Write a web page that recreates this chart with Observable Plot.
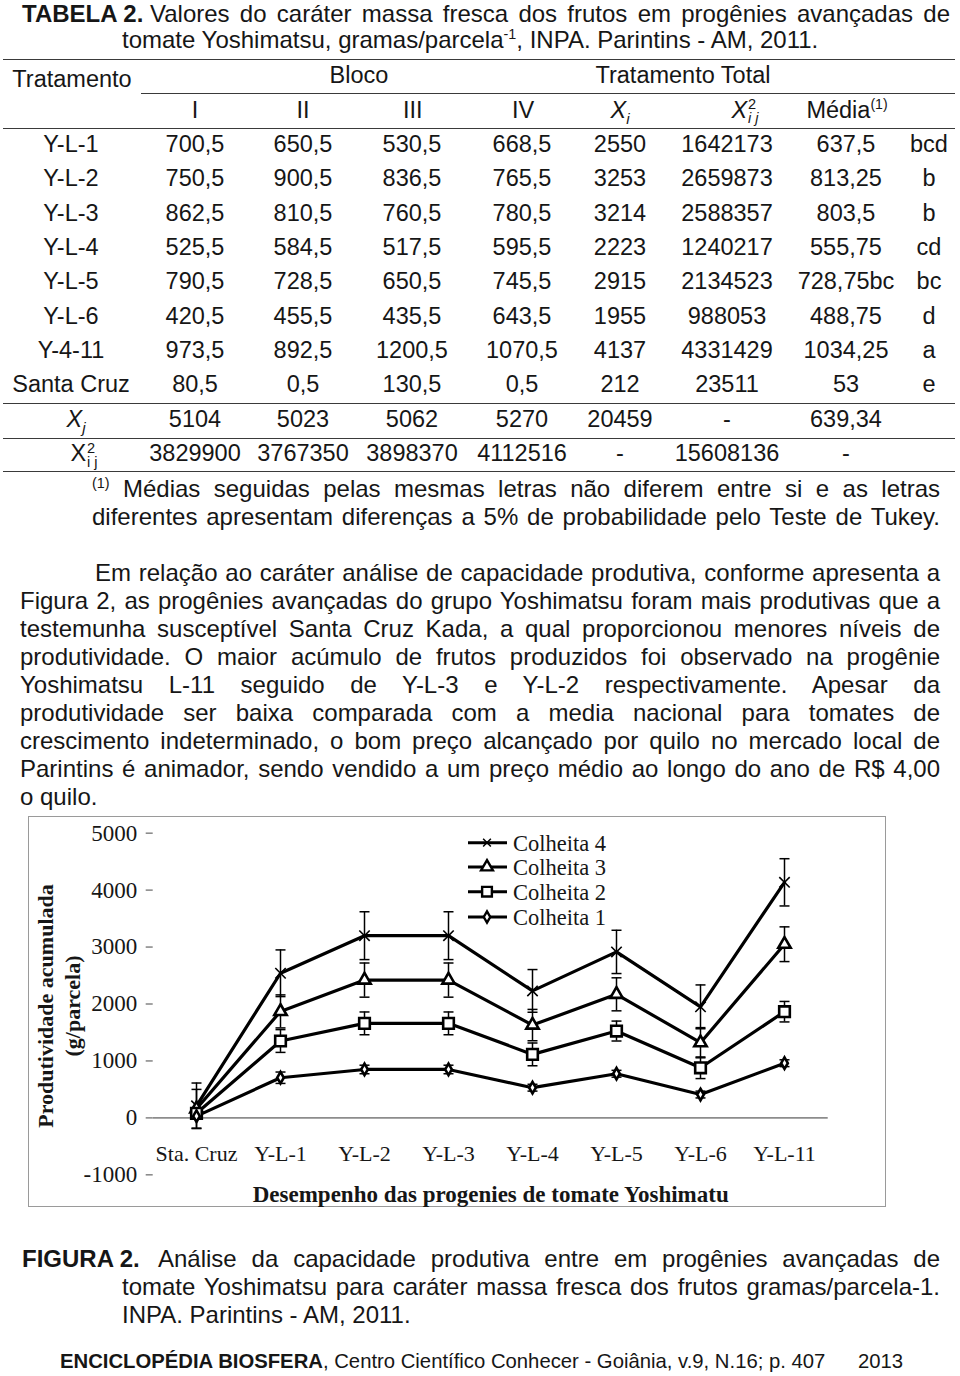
<!DOCTYPE html>
<html><head><meta charset="utf-8">
<script src="https://cdn.jsdelivr.net/npm/d3@7"></script>
<script src="https://cdn.jsdelivr.net/npm/@observablehq/plot@0.6"></script>
<style>
body{margin:0;background:#fff;}
#page{position:relative;width:960px;height:1376px;overflow:hidden;font-family:"Liberation Sans",Arial,sans-serif;color:#161616;}
.t{position:absolute;white-space:nowrap;line-height:28px;font-size:24px;}
.c{transform:translateX(-50%);}
.tb{font-size:23.5px;}
sup.s{font-size:0.6em;vertical-align:super;line-height:0;}
sub.s{font-size:0.65em;vertical-align:sub;line-height:0;}
.stk{display:inline-block;vertical-align:-0.4em;line-height:0.95;font-size:0.62em;text-align:left;margin-left:1px;}
.stk span{display:block;}
.hl{position:absolute;height:0;border-top:1.6px solid #3a3a3a;}
</style></head><body><div id="page"></div>
<script>
// ---------------- Table data ----------------
const tratamentos = ["Y-L-1","Y-L-2","Y-L-3","Y-L-4","Y-L-5","Y-L-6","Y-4-11","Santa Cruz"];
const blocoI   = ["700,5","750,5","862,5","525,5","790,5","420,5","973,5","80,5"];
const blocoII  = ["650,5","900,5","810,5","584,5","728,5","455,5","892,5","0,5"];
const blocoIII = ["530,5","836,5","760,5","517,5","650,5","435,5","1200,5","130,5"];
const blocoIV  = ["668,5","765,5","780,5","595,5","745,5","643,5","1070,5","0,5"];
const totalXi  = ["2550","3253","3214","2223","2915","1955","4137","212"];
const totalX2  = ["1642173","2659873","2588357","1240217","2134523","988053","4331429","23511"];
const medias   = ["637,5","813,25","803,5","555,75","728,75bc","488,75","1034,25","53"];
const letras   = ["bcd","b","b","cd","bc","d","a","e"];
const linhaXj  = ["5104","5023","5062","5270","20459","-","639,34"];
const linhaX2  = ["3829900","3767350","3898370","4112516","-","15608136","-"];

// ---------------- Chart data ----------------
const categorias = ["Sta. Cruz","Y-L-1","Y-L-2","Y-L-3","Y-L-4","Y-L-5","Y-L-6","Y-L-11"];
const colheita4 = [212, 2540, 3200, 3200, 2230, 2915, 1950, 4137];
const erro4     = [400, 410, 420, 420, 375, 380, 385, 415];
const colheita3 = [160, 1870, 2420, 2420, 1630, 2170, 1320, 3050];
const erro3     = [340, 290, 300, 300, 275, 290, 265, 305];
const colheita2 = [80, 1350, 1660, 1660, 1115, 1525, 880, 1865];
const erro2     = [60, 200, 200, 200, 200, 175, 190, 180];
const colheita1 = [30, 705, 850, 850, 530, 775, 410, 960];
const erro1     = [30, 100, 75, 75, 60, 60, 60, 60];
const serieNomes = ["Colheita 4","Colheita 3","Colheita 2","Colheita 1"];
const yTicks = [-1000, 0, 1000, 2000, 3000, 4000, 5000];
const yTitulo = "Produtividade acumulada\n(g/parcela)";
const xTitulo = "Desempenho das progenies de tomate Yoshimatu";

const page = document.getElementById("page");
function put(html, left, cy, cls = "", extra = "") {
  const d = document.createElement("div");
  d.className = "t " + cls;
  d.innerHTML = html;
  d.style.cssText = `left:${left}px;top:${cy - 14}px;${extra}`;
  page.appendChild(d);
  return d;
}
function just(html, left, right, cy, cls = "") {
  const d = put(html, left, cy, cls);
  const w = d.getBoundingClientRect().width;
  const n = (d.textContent.match(/ /g) || []).length;
  if (n) d.style.wordSpacing = ((right - left - w) / n) + "px";
  return d;
}
function hline(y, x1, x2) {
  const d = document.createElement("div");
  d.className = "hl";
  d.style.cssText = `left:${x1}px;top:${y - 0.8}px;width:${x2 - x1}px;`;
  page.appendChild(d);
}

// Title
put("<b>TABELA 2.</b>", 22, 14);
just("Valores do caráter massa fresca dos frutos em progênies avançadas de", 150, 950, 14);
put('tomate Yoshimatsu, gramas/parcela<sup class="s">-1</sup>, INPA. Parintins - AM, 2011.', 122, 40);

// Table lines
hline(60, 3, 955); hline(93.3, 141, 955); hline(129, 3, 955);
hline(403.3, 3, 955); hline(439, 3, 955); hline(472, 3, 955);

// Header
put("Tratamento", 72, 79, "tb c");
put("Bloco", 359, 75, "tb c");
put("Tratamento Total", 683, 75, "tb c");
const hdrX = [195, 303, 412.7, 523, 620, 745, 847];
const hdr = ["I","II","III","IV",'<i>X</i><sub class="s"><i>i</i></sub>',
  '<i>X</i><span class="stk"><span>2</span><span><i>i j</i></span></span>',
  'Média<sup class="s">(1)</sup>'];
hdr.forEach((h, i) => put(h, hdrX[i], 109.5, "tb c"));

// Body
const colX = [71, 195, 303, 412, 522, 620, 727, 846, 929];
tratamentos.forEach((t, i) => {
  const cy = 144 + 34.3 * i;
  const vals = [t, blocoI[i], blocoII[i], blocoIII[i], blocoIV[i], totalXi[i], totalX2[i], medias[i], letras[i]];
  vals.forEach((v, k) => put(v, colX[k], cy, "tb c"));
});
put('<i>X</i><sub class="s"><i>j</i></sub>', 76, 419, "tb c");
linhaXj.forEach((v, k) => put(v, colX[k + 1], 419, "tb c"));
put('X<span class="stk"><span>2</span><span>i j</span></span>', 84, 453.3, "tb c");
linhaX2.forEach((v, k) => put(v, colX[k + 1], 453.3, "tb c"));

// Footnote
just('<sup class="s">(1)</sup> Médias seguidas pelas mesmas letras não diferem entre si e as letras', 92, 940, 489);
just("diferentes apresentam diferenças a 5% de probabilidade pelo Teste de Tukey.", 92, 940, 517);

// Paragraph
const paragrafo = [
  "Em relação ao caráter análise de capacidade produtiva, conforme apresenta a",
  "Figura 2, as progênies avançadas do grupo Yoshimatsu foram mais produtivas que a",
  "testemunha susceptível Santa Cruz Kada, a qual proporcionou menores níveis de",
  "produtividade. O maior acúmulo de frutos produzidos foi observado na progênie",
  "Yoshimatsu L-11 seguido de Y-L-3 e Y-L-2 respectivamente. Apesar da",
  "produtividade ser baixa comparada com a media nacional para tomates de",
  "crescimento indeterminado, o bom preço alcançado por quilo no mercado local de",
  "Parintins é animador, sendo vendido a um preço médio ao longo do ano de R$ 4,00",
  "o quilo."
];
paragrafo.forEach((l, i) => {
  const cy = 573 + 28 * i;
  if (i === 0) just(l, 95, 940, cy);
  else if (i === paragrafo.length - 1) put(l, 20, cy);
  else just(l, 20, 940, cy);
});

// Caption
put("<b>FIGURA 2.</b>", 22, 1259);
just("Análise da capacidade produtiva entre em progênies avançadas de", 158, 940, 1259);
just("tomate Yoshimatsu para caráter massa fresca dos frutos gramas/parcela-1.", 122, 940, 1287);
put("INPA. Parintins - AM, 2011.", 122, 1315);

// Footer
put("<b>ENCICLOPÉDIA BIOSFERA</b>, Centro Científico Conhecer - Goiânia, v.9, N.16; p. 407", 60, 1361, "", "font-size:20.3px;");
put("2013", 858, 1361, "", "font-size:20.3px;");

// ---------------- Chart ----------------
const box = document.createElement("div");
box.style.cssText = "position:absolute;left:28px;top:816px;width:858px;height:391px;box-sizing:border-box;border:1.6px solid #9a9a9a;";
page.appendChild(box);

const series = [
  {name: serieNomes[0], symbol: "times", r: 4.8, values: colheita4, err: erro4},
  {name: serieNomes[1], symbol: "triangle", r: 4.6, values: colheita3, err: erro3},
  {name: serieNomes[2], symbol: "square", r: 6, values: colheita2, err: erro2},
  {name: serieNomes[3], symbol: "diamond", r: 3.5, values: colheita1, err: erro1}
];
const rows = series.flatMap(s => categorias.map((c, i) => ({serie: s.name, cat: c, v: s.values[i], e: s.err[i]})));
const cap = {draw(ctx, size) { const w = Math.sqrt(size / Math.PI); ctx.moveTo(-w, 0); ctx.lineTo(w, 0); }};
const serif = "'Liberation Serif','Times New Roman',serif";

const chart = Plot.plot({
  width: 858, height: 391,
  marginLeft: 124.7, marginRight: 58.3, marginTop: 16.7, marginBottom: 32.7,
  style: {background: "transparent", fontFamily: serif, overflow: "visible"},
  x: {type: "point", domain: categorias, padding: 0.5},
  y: {domain: [-1000, 5000]},
  marks: [
    Plot.ruleY([0], {stroke: "#8c8c8c", strokeWidth: 1.6}),
    Plot.axisY({ticks: yTicks, tickSize: 7, tickPadding: 9, stroke: "#8c8c8c", strokeWidth: 1.6, fill: "#161616",
      fontSize: 23, fontFamily: serif, line: true, label: null, tickFormat: d => String(d)}),
    Plot.axisX({anchor: "bottom", tickSize: 0, tickPadding: 0, lineAnchor: "middle", dy: -21, fontSize: 22,
      fontFamily: serif, fill: "#161616", label: null}),
    Plot.line(rows, {x: "cat", y: "v", z: "serie", stroke: "#000", strokeWidth: 3.2}),
    Plot.ruleX(rows, {x: "cat", y1: d => d.v - d.e, y2: d => d.v + d.e, stroke: "#000", strokeWidth: 1.5}),
    Plot.dot(rows, {x: "cat", y: d => d.v + d.e, symbol: cap, r: 5, stroke: "#000", strokeWidth: 1.5}),
    Plot.dot(rows, {x: "cat", y: d => d.v - d.e, symbol: cap, r: 5, stroke: "#000", strokeWidth: 1.5}),
    ...series.map(s => Plot.dot(rows.filter(d => d.serie === s.name), {x: "cat", y: "v", symbol: s.symbol, r: s.r,
      stroke: "#000", fill: s.symbol === "times" ? "none" : "white", strokeWidth: s.symbol === "times" ? 1.6 : 2.6})),
    Plot.text([yTitulo], {frameAnchor: "left", textAnchor: "middle", rotate: -90, dx: -95, dy: 2, lineHeight: 1.2,
      fontSize: 22, fontWeight: "bold", fontFamily: serif, fill: "#161616"}),
    Plot.text([xTitulo], {frameAnchor: "bottom", dy: 27, fontSize: 23, fontWeight: "bold", fontFamily: serif, fill: "#161616"})
  ]
});
chart.style.position = "absolute";
chart.style.left = "28px";
chart.style.top = "816px";
page.appendChild(chart);

// Legend (inside chart box)
const lg = d3.select(page).append("svg")
  .style("position", "absolute").style("left", "440px").style("top", "826px")
  .attr("width", 240).attr("height", 110);
const legendY = [16.7, 41, 65.7, 91];
const legendR = [3.6, 4.4, 5.5, 3.4];
series.forEach((s, i) => {
  const g = lg.append("g").attr("transform", `translate(0,${legendY[i]})`);
  g.append("line").attr("x1", 28).attr("x2", 67).attr("stroke", "#000").attr("stroke-width", 3);
  const sym = {times: d3.symbolTimes, triangle: d3.symbolTriangle, square: d3.symbolSquare, diamond: d3.symbolDiamond}[s.symbol];
  g.append("path").attr("transform", "translate(47,0)")
    .attr("d", d3.symbol(sym, Math.PI * legendR[i] ** 2)())
    .attr("fill", s.symbol === "times" ? "none" : "white").attr("stroke", "#000")
    .attr("stroke-width", s.symbol === "times" ? 1.5 : 2.4);
  g.append("text").attr("x", 73).attr("dy", "0.35em").attr("font-family", serif).attr("font-size", 22.5)
    .attr("fill", "#161616").text(s.name);
});
</script></body></html>
